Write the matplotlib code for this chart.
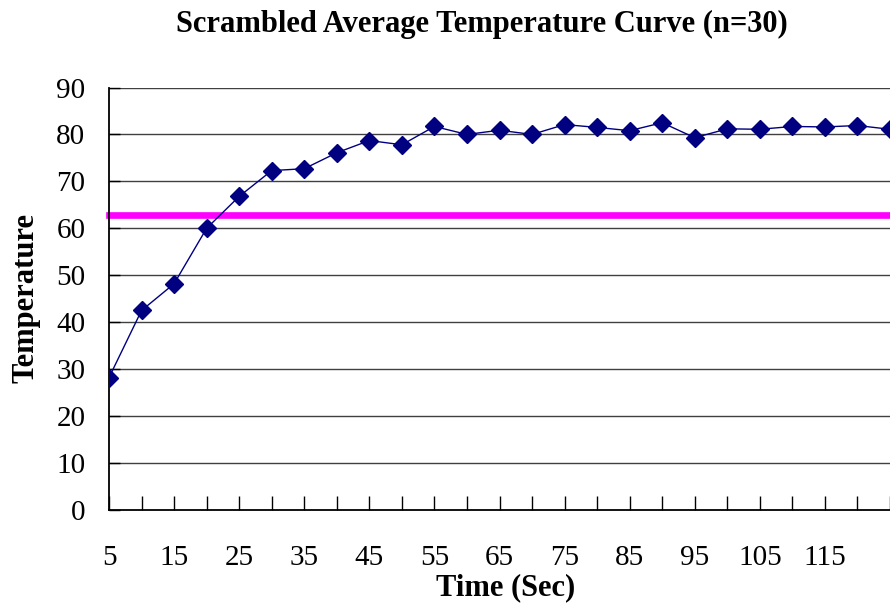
import numpy as np
import matplotlib
matplotlib.use("Agg")
from matplotlib import pyplot as plt

# time in seconds and mean temperature
timeSec = [5, 10, 15, 20, 25, 30, 35, 40, 45, 50, 55, 60, 65,
           70, 75, 80, 85, 90, 95, 100, 105, 110, 115, 120, 125]
avgTemp = [28.2, 42.5, 48.2, 60.0, 66.8, 72.3, 72.7, 76.1, 78.7, 77.8,
           81.7, 80.0, 80.9, 80.0, 82.1, 81.5, 80.8, 82.5, 79.3, 81.2,
           81.1, 81.7, 81.6, 81.9, 81.1]
threshold = 62.9
xTickLabels = [5, 15, 25, 35, 45, 55, 65, 75, 85, 95, 105, 115]
yTicks = [0, 10, 20, 30, 40, 50, 60, 70, 80, 90]

plt.rcParams['font.family'] = ['Liberation Serif', 'DejaVu Serif']

fig = plt.figure(figsize=(8.9, 6.09), dpi=100)
ax = fig.add_axes([109 / 890, 1 - 510 / 609, (890 - 109) / 890, (510 - 87.5) / 609])

# gridlines
for y in yTicks[1:]:
    ax.axhline(y, color='#404040', linewidth=1.0, zorder=1)

# threshold line
ax.axhline(threshold, color='#FF00FF', linewidth=4.8, zorder=2, clip_on=False)

ax.plot(timeSec, avgTemp, color='#000080', linewidth=1.0, marker='D',
        markersize=9, markerfacecolor='#000080', markeredgecolor='#000080',
        zorder=3, clip_on=True)

ax.set_xlim(5, 123.8)
ax.set_ylim(0, 90)

ax.set_xticks(timeSec)
ax.set_xticklabels([str(t) if t in xTickLabels else '' for t in timeSec])
ax.set_yticks(yTicks)

ax.tick_params(axis='x', direction='in', length=10, width=1, pad=25, labelsize=21)
ax.tick_params(axis='y', direction='in', length=8, width=1, pad=17, labelsize=21)

for side in ['top', 'right']:
    ax.spines[side].set_visible(False)
ax.spines['left'].set_linewidth(1.3)
ax.spines['bottom'].set_linewidth(1.3)

fig.text(482 / 890, 1 - 24 / 609, 'Scrambled Average Temperature Curve (n=30)',
         ha='center', va='center', fontsize=22, fontweight='bold')
fig.text(506 / 890, 1 - 588 / 609, 'Time (Sec)', ha='center', va='center',
         fontsize=22, fontweight='bold')
fig.text(26 / 890, 1 - 298 / 609, 'Temperature', ha='center', va='center',
         rotation=90, fontsize=22, fontweight='bold')

fig.savefig('out.png', dpi=100)
